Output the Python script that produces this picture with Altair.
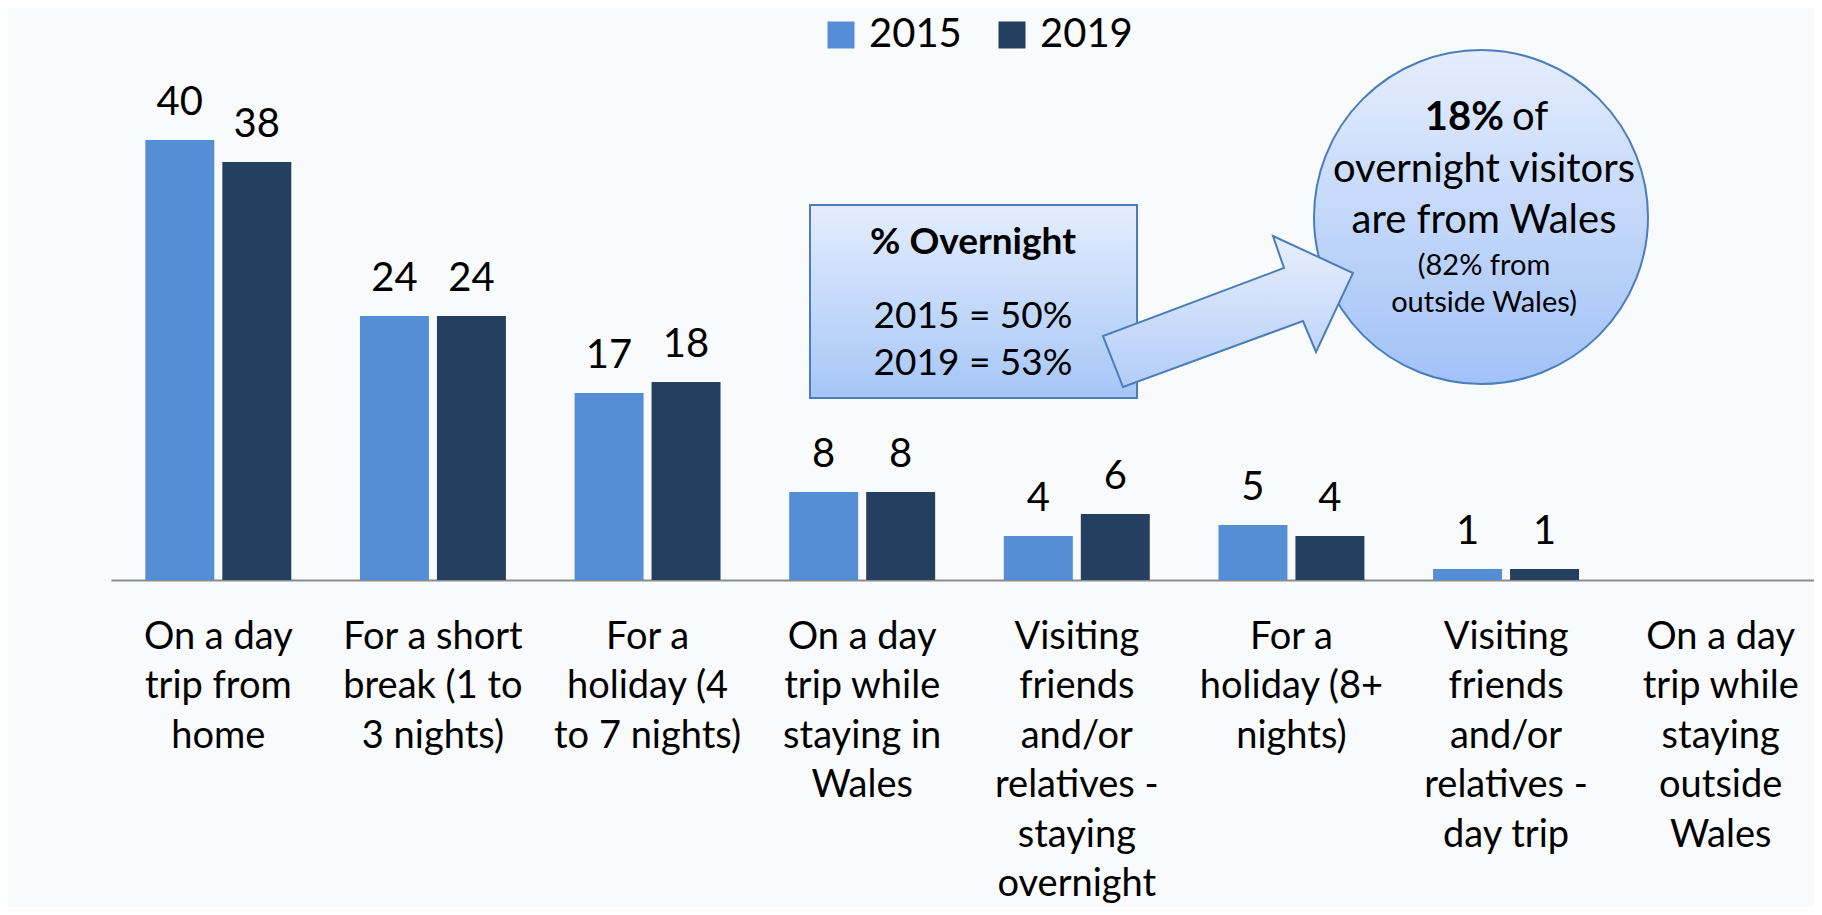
import altair as alt
import pandas as pd

# ---------------- data ----------------
categories = [
    "On a day|trip from|home",
    "For a short|break (1 to|3 nights)",
    "For a|holiday (4|to 7 nights)",
    "On a day|trip while|staying in|Wales",
    "Visiting|friends|and/or|relatives -|staying|overnight",
    "For a|holiday (8+|nights)",
    "Visiting|friends|and/or|relatives -|day trip",
    "On a day|trip while|staying|outside|Wales",
]
years = ["2015", "2019"]
values_2015 = [40, 24, 17, 8, 4, 5, 1, None]
values_2019 = [38, 24, 18, 8, 6, 4, 1, None]
colors = ["#558ed5", "#243f60"]

box_lines = ["% Overnight", "2015 = 50%", "2019 = 53%"]
circle_bold = "18%"
circle_lines = ["of", "overnight visitors", "are from Wales", "(82% from", "outside Wales)"]

rows = []
for i, c in enumerate(categories):
    for y, vals in zip(years, [values_2015, values_2019]):
        rows.append({"category": c, "year": y, "value": vals[i]})
df = pd.DataFrame(rows)

FONT = "Lato"


def vgrad(c1, c2):
    return alt.Gradient(
        gradient="linear",
        stops=[alt.GradientStop(color=c1, offset=0), alt.GradientStop(color=c2, offset=1)],
        x1=0, y1=0, x2=0, y2=1,
    )


xenc = alt.X(
    "category:N",
    sort=categories,
    scale=alt.Scale(domain=categories, range=[0, 1717], paddingInner=0.32, paddingOuter=0.16),
    axis=alt.Axis(
        title=None,
        labelExpr="split(datum.label, '|')",
        labelAngle=0,
        labelFont=FONT,
        labelFontSize=38,
        labelColor="#000000",
        labelLineHeight=49.5,
        labelPadding=38,
        labelBaseline="top",
        labelAlign="center",
        labelLimit=400,
        labelOverlap=False,
        ticks=False,
        tickSize=0,
        domainColor="#8c8c8c",
        domainWidth=2,
        grid=False,
    ),
)
xoff = alt.XOffset("year:N", sort=years, scale=alt.Scale(paddingInner=0.104, paddingOuter=0))
yenc = alt.Y("value:Q", scale=alt.Scale(domain=[0, 48]), axis=None)

bars = alt.Chart(df).mark_bar().encode(
    x=xenc,
    xOffset=xoff,
    y=yenc,
    color=alt.Color(
        "year:N",
        scale=alt.Scale(domain=years, range=colors),
        legend=alt.Legend(
            title=None,
            orient="none",
            legendX=710,
            legendY=-37,
            direction="horizontal",
            symbolType="square",
            symbolSize=729,
            symbolStrokeWidth=0,
            symbolOpacity=1,
            labelFont=FONT,
            labelFontSize=40,
            labelColor="#000000",
            labelOffset=8,
            columnPadding=30,
            padding=0,
        ),
    ),
)

labels = alt.Chart(df).transform_filter("datum.value != null").mark_text(
    font=FONT, fontSize=40, baseline="alphabetic", dy=-25, color="#000000"
).encode(x=xenc, xOffset=xoff, y=yenc, text="value:Q")

one = pd.DataFrame({"k": [0]})

box = alt.Chart(one).mark_rect(
    fill=vgrad("#e4edfd", "#a6c6f7"), stroke="#4a7ebb", strokeWidth=2
).encode(x=alt.value(699), x2=alt.value(1026), y=alt.value(153), y2=alt.value(346))

box_texts = []
for txt, yy, bold in zip(box_lines, [191, 265, 312], [True, False, False]):
    box_texts.append(
        alt.Chart(one).mark_text(
            text=txt, font=FONT, fontSize=37, fontWeight="bold" if bold else "normal",
            align="center", baseline="middle", color="#000000",
        ).encode(x=alt.value(862), y=alt.value(yy))
    )

circle = alt.Chart(one).mark_point(
    shape="circle", size=334 * 334, filled=True, fill=vgrad("#e5edfd", "#a1c2f7"),
    stroke="#4a7ebb", strokeWidth=2, opacity=1,
).encode(x=alt.value(1370), y=alt.value(165))

circle_texts = [
    alt.Chart(one).mark_text(
        text=circle_bold, font=FONT, fontSize=40, fontWeight="bold",
        align="right", baseline="alphabetic", color="#000000",
    ).encode(x=alt.value(1393), y=alt.value(78)),
    alt.Chart(one).mark_text(
        text=circle_lines[0], font=FONT, fontSize=40,
        align="left", baseline="alphabetic", color="#000000",
    ).encode(x=alt.value(1401), y=alt.value(78)),
]
for txt, yy, fs in zip(circle_lines[1:], [130, 181, 223, 260], [40, 40, 29, 29]):
    circle_texts.append(
        alt.Chart(one).mark_text(
            text=txt, font=FONT, fontSize=fs, align="center", baseline="alphabetic", color="#000000",
        ).encode(x=alt.value(1373), y=alt.value(yy))
    )

arrow_path = "M -0.84 0.604 L -1 0.196 L 0.448 -0.348 L 0.36 -0.604 L 1 -0.308 L 0.704 0.324 L 0.6 0.076 Z"
arrow = alt.Chart(one).mark_point(
    shape=arrow_path, size=250 * 250, filled=True, fill=vgrad("#e8effd", "#b3cdf8"),
    stroke="#4a7ebb", strokeWidth=2, opacity=1,
).encode(x=alt.value(1117), y=alt.value(259.5))

chart = alt.layer(
    bars, labels, box, *box_texts, circle, *circle_texts, arrow
).properties(
    width=1703,
    height=528,
    autosize=alt.AutoSizeParams(type="none"),
    padding={"left": 103, "top": 44, "right": 0, "bottom": 327},
    background="#f8fafb",
).configure_view(stroke=None)

chart.save("out.html", embed_options={"renderer": "svg", "actions": False})
